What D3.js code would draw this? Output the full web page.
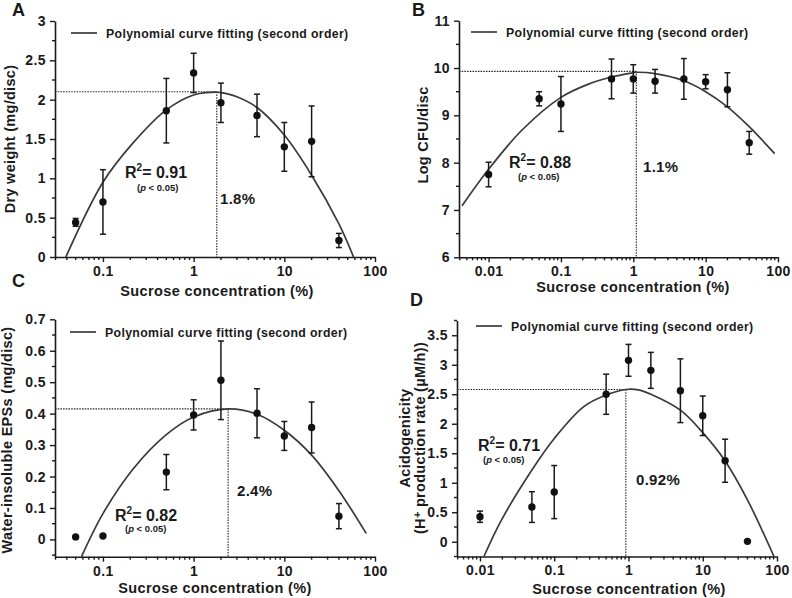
<!DOCTYPE html>
<html><head><meta charset="utf-8">
<script src="https://cdn.jsdelivr.net/npm/d3@7"></script>
<style>
body{margin:0;background:#fff}
svg{display:block}
text{font-family:"Liberation Sans",Arial,sans-serif;font-weight:bold;fill:#1a1a1a}
</style>
</head><body>
<svg id="chart" width="792" height="598"></svg>
<script>
// ---------------- data ----------------
const xTicksAC = [0.1, 1, 10, 100];
const xTicksBD = [0.01, 0.1, 1, 10, 100];

// Panel A : dry weight
const concA = [0.05, 0.1, 0.5, 1, 2, 5, 10, 20, 40];
const meanA = [0.44, 0.70, 1.86, 2.34, 1.96, 1.80, 1.40, 1.47, 0.21];
const errA  = [0.05, 0.41, 0.41, 0.25, 0.25, 0.27, 0.31, 0.45, 0.09];
const fitXA = [0.039, 0.1, 0.215, 0.5, 1, 1.8, 2, 2.95, 5, 10, 20, 40, 58];
const fitYA = [0, 0.95, 1.45, 1.87, 2.06, 2.095, 2.09, 2.04, 1.90, 1.55, 1.04, 0.42, 0];
const yTicksA = [0, 0.5, 1, 1.5, 2, 2.5, 3];
const peakA = {x: 1.8, y: 2.10, label: "1.8%", r2: "0.91"};

// Panel B : Log CFU
const concB = [0.01, 0.05, 0.1, 0.5, 1, 2, 5, 10, 20, 40];
const meanB = [7.75, 9.35, 9.24, 9.77, 9.77, 9.72, 9.77, 9.71, 9.54, 8.42];
const errB  = [0.26, 0.15, 0.58, 0.42, 0.30, 0.25, 0.43, 0.15, 0.36, 0.24];
const fitXB = [0.0043, 0.01, 0.029, 0.1, 0.24, 0.5, 1, 1.1, 2, 5, 10, 20, 40, 90];
const fitYB = [7.09, 7.86, 8.69, 9.38, 9.66, 9.81, 9.90, 9.91, 9.88, 9.73, 9.50, 9.18, 8.76, 8.19];
const yTicksB = [6, 7, 8, 9, 10, 11];
const peakB = {x: 1.1, y: 9.93, label: "1.1%", r2: "0.88"};

// Panel C : water-insoluble EPSs
const concC = [0.05, 0.1, 0.5, 1, 2, 5, 10, 20, 40];
const meanC = [0.008, 0.011, 0.214, 0.396, 0.506, 0.401, 0.329, 0.356, 0.074];
const errC  = [0, 0, 0.056, 0.048, 0.125, 0.078, 0.046, 0.081, 0.040];
const fitXC = [0.058, 0.1, 0.215, 0.5, 1, 2.4, 5, 10, 20, 40, 80];
const fitYC = [-0.055, 0.082, 0.224, 0.333, 0.389, 0.415, 0.398, 0.347, 0.268, 0.155, 0.019];
const yTicksC = [0, 0.1, 0.2, 0.3, 0.4, 0.5, 0.6, 0.7];
const peakC = {x: 2.4, y: 0.415, label: "2.4%", r2: "0.82"};

// Panel D : acidogenicity
const concD = [0.01, 0.05, 0.1, 0.5, 1, 2, 5, 10, 20, 40];
const meanD = [0.424, 0.588, 0.842, 2.50, 3.075, 2.905, 2.56, 2.135, 1.373, 0.007];
const errD  = [0.095, 0.26, 0.45, 0.34, 0.27, 0.305, 0.54, 0.335, 0.365, 0];
const fitXD = [0.0113, 0.0195, 0.05, 0.1, 0.25, 0.5, 0.92, 1.35, 2, 5, 10, 20, 40, 91];
const fitYD = [-0.25, 0.37, 1.215, 1.75, 2.29, 2.486, 2.58, 2.575, 2.50, 2.23, 1.85, 1.37, 0.71, -0.25];
const yTicksD = [0, 0.5, 1, 1.5, 2, 2.5, 3, 3.5];
const peakD = {x: 0.92, y: 2.58, label: "0.92%", r2: "0.71"};

const legendText = "Polynomial curve fitting (second order)";
const xTitle = "Sucrose concentration (%)";

// ---------------- layout ----------------
const panels = [
  {tag:"A", tagPos:[12,16], conc:concA, mean:meanA, err:errA, fitX:fitXA, fitY:fitYA, yTicks:yTicksA, yMinor:0.25, peak:peakA,
   xDom:[0.0296,100], xR:[55,375], yDom:[0,3], yR:[257,21], xTicks:xTicksAC,
   yTitle:["Dry weight (mg/disc)"], yTitlePos:[[15,139]], xTitlePos:[217,296],
   leg:[71,33], r2:[125,178], pv:[137,191], pk:[220,204]},
  {tag:"B", tagPos:[412,16], conc:concB, mean:meanB, err:errB, fitX:fitXB, fitY:fitYB, yTicks:yTicksB, yMinor:0.5, peak:peakB,
   xDom:[0.0039,100], xR:[459,778], yDom:[6,11], yR:[257.3,20.7], xTicks:xTicksBD,
   yTitle:["Log CFU/disc"], yTitlePos:[[428,135]], xTitlePos:[633,292],
   leg:[471,32], r2:[509,168], pv:[518,180], pk:[643,172]},
  {tag:"C", tagPos:[12,287], conc:concC, mean:meanC, err:errC, fitX:fitXC, fitY:fitYC, yTicks:yTicksC, yMinor:0.05, peak:peakC,
   xDom:[0.0296,100], xR:[55,375], yDom:[-0.055,0.7], yR:[556.7,319.3], xTicks:xTicksAC,
   yTitle:["Water-insoluble EPSs (mg/disc)"], yTitlePos:[[12,440]], xTitlePos:[215,593],
   leg:[70,332], r2:[115,521], pv:[125,532], pk:[237,496]},
  {tag:"D", tagPos:[410,306], conc:concD, mean:meanD, err:errD, fitX:fitXD, fitY:fitYD, yTicks:yTicksD, yMinor:0.25, peak:peakD,
   xDom:[0.0049,100], xR:[457,777], yDom:[-0.25,3.75], yR:[556.5,320.5], xTicks:xTicksBD,
   yTitle:["Acidogenicity", "(H+ production rate (\u00b5M/h))"], yTitlePos:[[410,438],[425,438]], xTitlePos:[629,594],
   leg:[476,326], r2:[478,451], pv:[483,463], pk:[636,485]}
];

const svg = d3.select("#chart");
const INK = "#1a1a1a";

panels.forEach(p => {
  const g = svg.append("g");
  const x = d3.scaleLog().domain(p.xDom).range(p.xR);
  const y = d3.scaleLinear().domain(p.yDom).range(p.yR);
  const x0 = p.xR[0], yB = p.yR[0];

  // x axis
  const xa = g.append("g").attr("transform", `translate(0,${yB})`)
    .call(d3.axisBottom(x).tickValues(p.xTicks).tickFormat(d3.format("~g")).tickSize(5).tickSizeOuter(0).tickPadding(4));
  const minorX = x.ticks().filter(t => !p.xTicks.some(m => Math.abs(m - t) < 1e-9) && t >= p.xDom[0] && t <= p.xDom[1]);
  xa.selectAll(".minor").data(minorX).enter().append("line").attr("class","minor")
    .attr("x1", d => x(d)).attr("x2", d => x(d)).attr("y1", 0).attr("y2", 3);
  // y axis
  const ya = g.append("g").attr("transform", `translate(${x0},0)`)
    .call(d3.axisLeft(y).tickValues(p.yTicks).tickFormat(d3.format("~g")).tickSize(5).tickSizeOuter(0).tickPadding(4));
  const nMin = Math.round((p.yDom[1] - p.yDom[0]) / p.yMinor) + 2;
  const minorY = d3.range(-nMin, nMin * 2).map(i => +(p.yTicks[0] + i * p.yMinor).toFixed(6))
    .filter(v => v >= p.yDom[0] - 1e-9 && v <= p.yDom[1] + 1e-9 && !p.yTicks.some(m => Math.abs(m - v) < 1e-9));
  ya.selectAll(".minor").data(minorY).enter().append("line").attr("class","minor")
    .attr("y1", d => y(d)).attr("y2", d => y(d)).attr("x1", 0).attr("x2", -3);

  [xa, ya].forEach(a => {
    a.select(".domain").attr("stroke", INK).attr("stroke-width", 1.6);
    a.selectAll("line").attr("stroke", INK).attr("stroke-width", 1.4);
    a.selectAll("text").attr("font-size", 14).attr("fill", INK).attr("letter-spacing", 0.4)
      .style("font-family", '"Liberation Sans",Arial,sans-serif').style("font-weight", "bold");
  });

  // dotted guide lines
  g.append("line").attr("x1", x0).attr("x2", x(p.peak.x)).attr("y1", y(p.peak.y)).attr("y2", y(p.peak.y))
    .attr("stroke", "#222").attr("stroke-width", 1.1).attr("stroke-dasharray", "1.5,1.2");
  g.append("line").attr("x1", x(p.peak.x)).attr("x2", x(p.peak.x)).attr("y1", y(p.peak.y)).attr("y2", yB)
    .attr("stroke", "#222").attr("stroke-width", 1.1).attr("stroke-dasharray", "1.5,1.2");

  // fitted curve
  const fit = p.fitX.map((v, i) => [v, p.fitY[i]]);
  g.append("path").datum(fit)
    .attr("d", d3.line().x(d => x(d[0])).y(d => y(d[1])).curve(d3.curveCatmullRom.alpha(0.5)))
    .attr("fill", "none").attr("stroke", "#3a3a3a").attr("stroke-width", 1.7);

  // error bars + points
  const pts = p.conc.map((c, i) => ({c, m: p.mean[i], e: p.err[i]}));
  const eb = g.append("g").selectAll("g").data(pts.filter(d => d.e > 0)).enter().append("g")
    .attr("stroke", INK).attr("stroke-width", 1.5);
  eb.append("line").attr("x1", d => x(d.c)).attr("x2", d => x(d.c)).attr("y1", d => y(d.m - d.e)).attr("y2", d => y(d.m + d.e));
  eb.append("line").attr("x1", d => x(d.c) - 3).attr("x2", d => x(d.c) + 3).attr("y1", d => y(d.m + d.e)).attr("y2", d => y(d.m + d.e));
  eb.append("line").attr("x1", d => x(d.c) - 3).attr("x2", d => x(d.c) + 3).attr("y1", d => y(d.m - d.e)).attr("y2", d => y(d.m - d.e));
  g.append("g").selectAll("circle").data(pts).enter().append("circle")
    .attr("cx", d => x(d.c)).attr("cy", d => y(d.m)).attr("r", 3.7).attr("fill", "#111");

  // legend
  g.append("line").attr("x1", p.leg[0]).attr("x2", p.leg[0] + 26).attr("y1", p.leg[1]).attr("y2", p.leg[1])
    .attr("stroke", "#3a3a3a").attr("stroke-width", 1.7);
  g.append("text").attr("x", p.leg[0] + 35).attr("y", p.leg[1] + 5).attr("font-size", 12.3)
    .attr("letter-spacing", 0.35).text(legendText);

  // R2 and p
  const r = g.append("text").attr("x", p.r2[0]).attr("y", p.r2[1]).attr("font-size", 16);
  r.append("tspan").text("R");
  r.append("tspan").attr("font-size", 10).attr("dy", -7).text("2");
  r.append("tspan").attr("dy", 7).text("= " + p.peak.r2);
  const pv = g.append("text").attr("x", p.pv[0]).attr("y", p.pv[1]).attr("font-size", 9.5);
  pv.append("tspan").text("(");
  pv.append("tspan").attr("font-style", "italic").text("p");
  pv.append("tspan").text(" < 0.05)");
  // optimum label
  g.append("text").attr("x", p.pk[0]).attr("y", p.pk[1]).attr("font-size", 15).attr("letter-spacing", 0.3).text(p.peak.label);

  // axis titles
  g.append("text").attr("x", p.xTitlePos[0]).attr("y", p.xTitlePos[1]).attr("text-anchor", "middle")
    .attr("font-size", 14.5).attr("letter-spacing", 0.4).text(xTitle);
  p.yTitle.forEach((t, i) => {
    const pos = p.yTitlePos[i];
    const tx = g.append("text").attr("transform", `translate(${pos[0]},${pos[1]}) rotate(-90)`)
      .attr("text-anchor", "middle").attr("font-size", 14.5).attr("letter-spacing", 0.3);
    if (t.startsWith("(H+")) {
      tx.append("tspan").text("(H");
      tx.append("tspan").attr("font-size", 11).attr("dy", -4).text("+");
      tx.append("tspan").attr("dy", 4).text(" production rate (\u00b5M/h))");
    } else tx.text(t);
  });

  // panel tag
  g.append("text").attr("x", p.tagPos[0]).attr("y", p.tagPos[1]).attr("font-size", 18).text(p.tag);
});
</script>
</body></html>
